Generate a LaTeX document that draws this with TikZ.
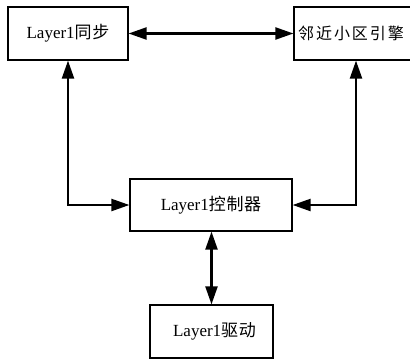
\documentclass[tikz,border=0pt]{standalone}
\usepackage{fontspec}
\setmainfont{Liberation Serif}
\newfontfamily\cjk[LetterSpace=4]{Noto Sans CJK SC}
\newfontfamily\cjkwide[LetterSpace=12]{Noto Sans CJK SC}
\usetikzlibrary{arrows.meta}
\begin{document}
\begin{tikzpicture}[x=1pt,y=-1pt,
  box/.style={draw=black,line width=1.2pt,minimum height=53pt,inner sep=0pt,font=\fontsize{17}{19}\selectfont},
  conn/.style={line width=2.2pt,{Triangle[length=18pt,width=12pt]}-{Triangle[length=18pt,width=12pt]}}]
\useasboundingbox (0,0) rectangle (410,359);
\begin{scope}
\clip (0,0) rectangle (410,359);
\node[box,minimum width=124pt] (nbr) at (356,33.5) {};
\node[font=\fontsize{16}{18}\selectfont,anchor=west,inner sep=0pt] (nbrtext) at (298,33.5) {{\cjkwide 邻近小区引擎}};
\end{scope}
\node[box,minimum width=120pt] (sync) at (68,33.5) {Layer1{\cjk 同步}};
\node[box,minimum width=162pt,minimum height=52pt] (ctrl) at (211,205) {Layer1{\cjk 控制器}};
\node[box,minimum width=123pt] (drv) at (211.5,331.5) {\hspace*{6pt}Layer1{\cjk 驱动}};
\draw[conn] (sync.east) -- (nbr.west);
\draw[conn] (sync.south) |- (ctrl.west);
\draw[conn] (nbr.south) |- (ctrl.east);
\draw[conn] (ctrl.south -| drv.north) -- (drv.north);
\end{tikzpicture}
\end{document}
